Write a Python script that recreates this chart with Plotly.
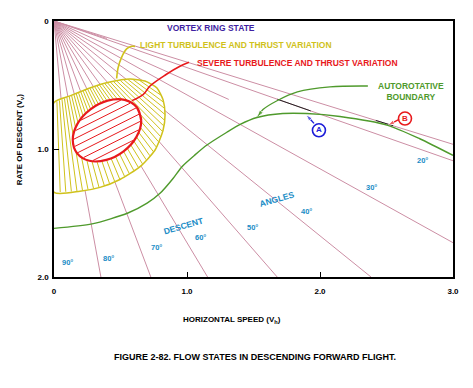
import numpy as np
import plotly.graph_objects as go

# ---------------- data ----------------
x_tick_vals = [0, 1, 2, 3]
x_tick_text = ["0", "1.0", "2.0", "3.0"]
y_tick_vals = [0, 1, 2]
y_tick_text = ["0", "1.0", "2.0"]

# descent-angle rays (degrees) drawn to the frame
main_angles = [80, 70, 60, 50, 40, 30, 20]
# intermediate rays drawn only near the origin (angle, length in Vh units)
short_angles = [85, 75, 65, 55, 45, 35, 25, 19]
short_lengths = [0.8, 0.8, 0.8, 0.8, 0.8, 0.9, 1.45, 0.42]
# ray through point B
b_ray_angle = 17.8

angle_labels = ["90°", "80°", "70°", "60°", "50°", "40°", "30°", "20°"]
angle_label_x = [0.10, 0.406, 0.767, 1.098, 1.489, 1.902, 2.39, 2.774]
angle_label_y = [1.885, 1.854, 1.769, 1.692, 1.615, 1.485, 1.30, 1.092]

# autorotative boundary
auto_x = [0.0, 0.286, 0.556, 0.70, 0.797, 0.895, 0.962, 1.06, 1.15, 1.30, 1.40,
          1.526, 1.72, 1.90, 2.15, 2.51, 2.75, 3.0]
auto_y = [1.62, 1.585, 1.50, 1.423, 1.346, 1.23, 1.138, 1.046, 0.969, 0.869, 0.808,
          0.754, 0.723, 0.723, 0.746, 0.815, 0.92, 1.05]

# light turbulence region outline
light_x = [0.0, 0.12, 0.27, 0.42, 0.571, 0.684, 0.774, 0.82, 0.835, 0.82, 0.76,
           0.647, 0.496, 0.346, 0.195, 0.0, 0.0]
light_y = [0.638, 0.585, 0.523, 0.477, 0.454, 0.469, 0.523, 0.615, 0.731, 0.854,
           1.008, 1.138, 1.238, 1.30, 1.33, 1.338, 0.638]

# severe turbulence region outline (tilted oval)
severe_x = [0.623, 0.656, 0.620, 0.523, 0.394, 0.266, 0.174, 0.141, 0.177, 0.274,
            0.403, 0.531]
severe_y = [0.674, 0.779, 0.905, 1.018, 1.085, 1.092, 1.034, 0.928, 0.802, 0.690,
            0.622, 0.616]

# callout leader lines
light_call_x = [0.471, 0.481, 0.509, 0.546, 0.584, 0.609]
light_call_y = [0.449, 0.369, 0.282, 0.218, 0.198, 0.198]
severe_call_x = [0.586, 0.67, 0.722, 0.84, 0.947, 1.015]
severe_call_y = [0.622, 0.575, 0.508, 0.42, 0.354, 0.323]
auto_call_x = [2.36, 2.075, 1.83, 1.677, 1.571, 1.526]
auto_call_y = [0.508, 0.515, 0.554, 0.623, 0.692, 0.754]

# pointer arrows from the circled letters (tail -> tip)
a_arrow_x = [1.955, 1.895]
a_arrow_y = [0.80, 0.731]
b_arrow_x = [2.594, 2.511]
b_arrow_y = [0.769, 0.815]

# black tangent segments along the 20 deg ray and B ray (Vh range)
tangent_a_range = [1.68, 1.93]
tangent_b_range = [2.42, 2.55]

points_xy = {"A": (1.992, 0.854), "B": (2.639, 0.762)}

PINK = "#cc8ea4"
YEL = "#d0c21c"
RED = "#e8191c"
GRN = "#4f9a2c"
CYAN = "#1a8cc6"
BLUE = "#1c1cd8"
PURP = "#3f1fa2"
FONT = "Liberation Sans"

fig = go.Figure()


def pip(px, py, vx, vy):
    vx = np.asarray(vx, float)
    vy = np.asarray(vy, float)
    inside = np.zeros(px.shape, bool)
    n = len(vx)
    j = n - 1
    for i in range(n):
        dy = vy[j] - vy[i]
        if dy == 0:
            j = i
            continue
        cond = ((vy[i] > py) != (vy[j] > py)) & (px < (vx[j] - vx[i]) * (py - vy[i]) / dy + vx[i])
        inside ^= cond
        j = i
    return inside


def runs(xs, ys, mask, outx, outy):
    idx = np.flatnonzero(mask)
    if idx.size == 0:
        return
    breaks = np.flatnonzero(np.diff(idx) > 1)
    starts = np.r_[idx[0], idx[breaks + 1]]
    ends = np.r_[idx[breaks], idx[-1]]
    for s, e in zip(starts, ends):
        if e - s < 1:
            continue
        outx += [xs[s], xs[e], None]
        outy += [ys[s], ys[e], None]


def ray_end(deg):
    t = np.tan(np.radians(deg))
    xe = min(3.0, 2.0 / t)
    return xe, xe * t


def line(x, y, color, width, shape="linear", smoothing=1.0, **kw):
    fig.add_trace(go.Scatter(x=x, y=y, mode="lines",
                             line=dict(color=color, width=width, shape=shape, smoothing=smoothing),
                             hoverinfo="skip", **kw))


# ---- rays ----
rx, ry = [], []
for a in main_angles:
    xe, ye = ray_end(a)
    rx += [0, xe, None]
    ry += [0, ye, None]
for a, L in zip(short_angles, short_lengths):
    rx += [0, L * np.cos(np.radians(a)), None]
    ry += [0, L * np.sin(np.radians(a)), None]
xe, ye = ray_end(b_ray_angle)
rx += [0, xe, None]
ry += [0, ye, None]
line(rx, ry, PINK, 1)

# black tangent segments
tx, ty = [], []
for rng, a in ((tangent_a_range, 20), (tangent_b_range, b_ray_angle)):
    t = np.tan(np.radians(a))
    tx += [rng[0], rng[1], None]
    ty += [rng[0] * t, rng[1] * t, None]
line(tx, ty, "#222222", 1)

# ---- light turbulence region (white fill hides rays) ----
fig.add_trace(go.Scatter(x=light_x, y=light_y, mode="lines", fill="toself",
                         fillcolor="white",
                         line=dict(color=YEL, width=1.5, shape="spline", smoothing=0.6),
                         hoverinfo="skip"))
hx, hy = [], []
r = np.linspace(0, 2.0, 1500)
for a in np.arange(34, 89.5, 1.8):
    xs = r * np.cos(np.radians(a))
    ys = r * np.sin(np.radians(a))
    m = pip(xs, ys, light_x, light_y) & ~pip(xs, ys, severe_x, severe_y)
    runs(xs, ys, m, hx, hy)
line(hx, hy, YEL, 1)

# closed smooth outline for the oval (wrap two points so the spline has no seam)
sev_cx = severe_x + severe_x[:2]
sev_cy = severe_y + severe_y[:2]
fig.add_trace(go.Scatter(x=sev_cx, y=sev_cy, mode="lines", fill="toself",
                         fillcolor="white",
                         line=dict(color=RED, width=0.1, shape="spline", smoothing=1.0),
                         hoverinfo="skip"))
sx, sy = [], []
ang = np.radians(27)
d = np.array([np.cos(ang) / 133, -np.sin(ang) / 130])
nrm = np.array([np.sin(ang) / 133, np.cos(ang) / 130])
cx, cy = np.mean(severe_x), np.mean(severe_y)
s = np.linspace(-60, 60, 800)
for k in range(-6, 7):
    off = k * 7.0
    xs = cx + nrm[0] * off + d[0] * s
    ys = cy + nrm[1] * off + d[1] * s
    m = pip(xs, ys, severe_x, severe_y)
    runs(xs, ys, m, sx, sy)
line(sx, sy, RED, 1)
line(sev_cx, sev_cy, RED, 2.2, shape="spline", smoothing=1.0)

# ---- callouts ----
line(light_call_x, light_call_y, YEL, 1.6, shape="spline")
line(severe_call_x, severe_call_y, RED, 1.6, shape="spline")
n_auto = len(auto_call_x)
fig.add_trace(go.Scatter(x=auto_call_x, y=auto_call_y, mode="lines+markers",
                         line=dict(color=GRN, width=1.3, shape="spline"),
                         marker=dict(symbol="arrow", angleref="previous", color=GRN,
                                     size=[0] * (n_auto - 1) + [8]),
                         hoverinfo="skip"))
for ax_, ay_, col in ((a_arrow_x, a_arrow_y, BLUE), (b_arrow_x, b_arrow_y, RED)):
    fig.add_trace(go.Scatter(x=ax_, y=ay_, mode="lines+markers",
                             line=dict(color=col, width=1.4),
                             marker=dict(symbol="arrow", angleref="previous", color=col,
                                         size=[0, 7]),
                             hoverinfo="skip"))

# ---- autorotative boundary ----
line(auto_x, auto_y, GRN, 1.4, shape="spline", smoothing=0.7)

# ---- points A, B ----
for key, col in (("A", BLUE), ("B", RED)):
    fig.add_trace(go.Scatter(x=[points_xy[key][0]], y=[points_xy[key][1]], mode="markers+text",
                             text=[f"<b>{key}</b>"], textposition="middle center",
                             textfont=dict(color=col, size=8, family=FONT),
                             marker=dict(symbol="circle-open", size=13, color=col,
                                         line=dict(width=1.6)),
                             hoverinfo="skip"))

ann = []


def lab(text, x, y, color, xanchor="left", size=8.5, angle=0):
    ann.append(dict(x=x, y=y, xref="x", yref="y", text=f"<b>{text}</b>", showarrow=False,
                    xanchor=xanchor, yanchor="middle", textangle=angle,
                    font=dict(family=FONT, size=size, color=color)))


lab("VORTEX RING STATE", 0.835, 0.054, PURP)
lab("LIGHT TURBULENCE AND THRUST VARIATION", 0.632, 0.185, YEL)
lab("SEVERE TURBULENCE AND THRUST VARIATION", 1.06, 0.331, RED)
lab("AUTOROTATIVE<br>BOUNDARY", 2.684, 0.55, GRN, xanchor="center")
lab("DESCENT", 0.97, 1.60, CYAN, xanchor="center", size=8.5, angle=-16)
lab("ANGLES", 1.68, 1.39, CYAN, xanchor="center", size=8.5, angle=-16)
for t, x, y in zip(angle_labels, angle_label_x, angle_label_y):
    lab(t, x, y, CYAN, xanchor="center", size=7.5)

# axis titles and caption
ann.append(dict(x=-0.085, y=0.535, xref="paper", yref="paper", showarrow=False,
                xanchor="center", yanchor="middle",
                text="<b>RATE OF DESCENT (V<sub>v</sub>)</b>", textangle=-90,
                font=dict(family=FONT, size=8, color="black")))
ann.append(dict(x=0.446, y=-0.169, xref="paper", yref="paper", showarrow=False,
                xanchor="center", yanchor="middle",
                text="<b>HORIZONTAL SPEED (V<sub>h</sub>)</b>",
                font=dict(family=FONT, size=8, color="black")))
ann.append(dict(x=0.504, y=-0.312, xref="paper", yref="paper", showarrow=False,
                xanchor="center", yanchor="middle",
                text="<b>FIGURE 2-82. FLOW STATES IN DESCENDING FORWARD FLIGHT.</b>",
                font=dict(family=FONT, size=9, color="black")))

# page body has an 8px default margin: size the figure so the frame lands where the reference has it
fig.update_layout(
    width=465, height=380,
    margin=dict(l=46, r=20, t=9, b=111),
    paper_bgcolor="white", plot_bgcolor="white",
    showlegend=False,
    annotations=ann,
    xaxis=dict(range=[0, 3], tickvals=x_tick_vals, ticktext=[f"<b>{t}</b>" for t in x_tick_text],
               ticks="inside", ticklen=5, tickcolor="black", showgrid=False, zeroline=False,
               showline=True, linecolor="black", linewidth=1.5, mirror=True,
               ticklabelstandoff=6,
               tickfont=dict(family=FONT, size=8, color="black")),
    yaxis=dict(range=[2, 0], tickvals=y_tick_vals, ticktext=[f"<b>{t}</b>" for t in y_tick_text],
               ticks="inside", ticklen=5, tickcolor="black", showgrid=False, zeroline=False,
               showline=True, linecolor="black", linewidth=1.5, mirror=True,
               ticklabelstandoff=2,
               tickfont=dict(family=FONT, size=8, color="black")),
)

fig.write_html("out.html")
